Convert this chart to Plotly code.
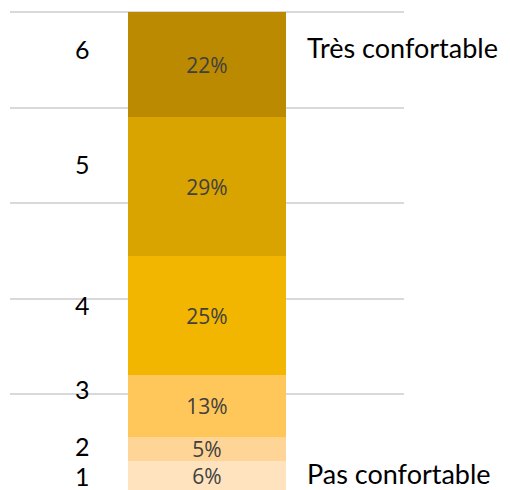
import plotly.graph_objects as go

# Comfort rating shares (1 = pas confortable ... 6 = très confortable)
levels = ["1", "2", "3", "4", "5", "6"]
shares = [6, 5, 13, 25, 29, 22]
colors = ["#FFE2BE", "#FFD597", "#FFC75A", "#F2B600", "#D9A300", "#BB8A00"]
label_shift = [0, 3, 17, 11, 23, 16]  # px nudges for the level numbers

fig = go.Figure()
for lvl, val, col in zip(levels, shares, colors):
    fig.add_trace(go.Bar(
        x=["q"], y=[val], name=lvl,
        marker=dict(color=col, line=dict(width=0)),
        text=[f"{val}%"], textposition="inside", insidetextanchor="middle",
        textangle=0, constraintext="none",
        textfont=dict(family="Open Sans", size=21, color="#404040"),
        hoverinfo="skip",
    ))

annotations = []
base = 0
for lvl, val, dy in zip(levels, shares, label_shift):
    mid = base + val / 2
    base += val
    annotations.append(dict(
        x=0.185, xref="paper", y=mid, yref="y", yshift=dy,
        text=lvl, showarrow=False, xanchor="center", yanchor="middle",
        font=dict(family="Lato", size=25, color="#000000"),
    ))

annotations.append(dict(
    x=0.748, xref="paper", y=1, yref="paper", yshift=-36,
    text="Très confortable", showarrow=False, xanchor="left", yanchor="middle",
    font=dict(family="Lato", size=27, color="#000000"),
))
annotations.append(dict(
    x=0.748, xref="paper", y=0, yref="paper", yshift=17,
    text="Pas confortable", showarrow=False, xanchor="left", yanchor="middle",
    font=dict(family="Lato", size=27, color="#000000"),
))

fig.update_layout(
    width=510, height=490,
    margin=dict(l=10, r=106, t=11, b=0),
    barmode="stack", bargap=0.6,
    showlegend=False,
    plot_bgcolor="white", paper_bgcolor="white",
    annotations=annotations,
    xaxis=dict(visible=False, range=[-0.5, 0.5]),
    yaxis=dict(range=[0, 100.25], tickvals=[20, 40, 60, 80, 100],
               showgrid=True, gridcolor="#D9D9D9",
               gridwidth=1.5, zeroline=False, showticklabels=False,
               showline=False, ticks=""),
)

fig.write_html("out.html")
